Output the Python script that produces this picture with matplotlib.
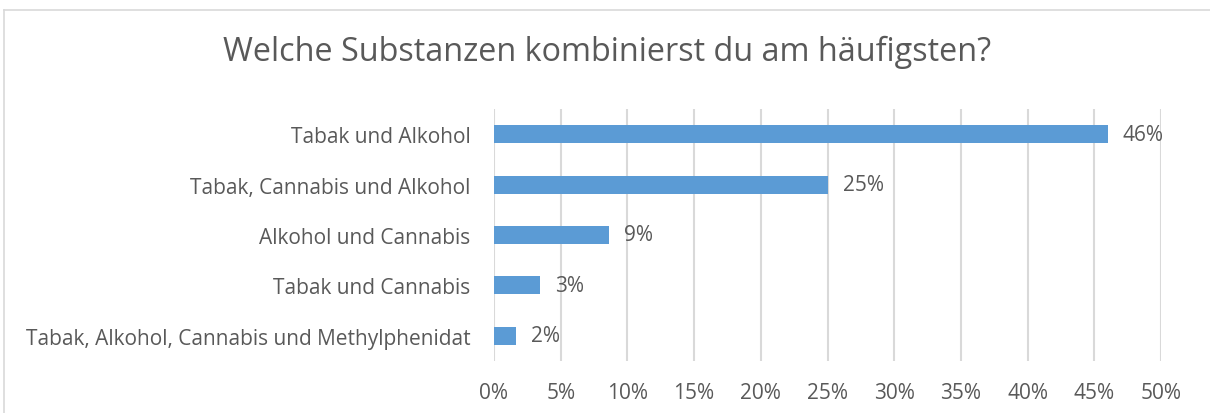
import matplotlib.pyplot as plt
from matplotlib.lines import Line2D

categories = [
    "Tabak und Alkohol",
    "Tabak, Cannabis und Alkohol",
    "Alkohol und Cannabis",
    "Tabak und Cannabis",
    "Tabak, Alkohol, Cannabis und Methylphenidat",
]
shares = [0.46, 0.25, 0.086, 0.0345, 0.0165]
xticks = [0, 0.05, 0.10, 0.15, 0.20, 0.25, 0.30, 0.35, 0.40, 0.45, 0.50]

TEXT = "#595959"
GRID = "#D9D9D9"
BAR = "#5B9BD5"

plt.rcParams['font.family'] = ['Open Sans', 'DejaVu Sans']

fig = plt.figure(figsize=(12.1, 4.14), dpi=100)
ax = fig.add_axes([494 / 1210, 1 - 362 / 414, 667 / 1210, 252 / 414])

ypos = list(range(len(categories)))
ax.barh(ypos, shares, height=0.36, color=BAR, zorder=3)
ax.set_ylim(len(categories) - 0.5, -0.5)
ax.set_xlim(0, 0.5)
ax.set_yticks(ypos)
ax.set_yticklabels(categories, fontsize=15, color=TEXT)
ax.set_xticks(xticks)
ax.set_xticklabels(["%d%%" % round(t * 100) for t in xticks], fontsize=15, color=TEXT)
ax.tick_params(axis='both', length=0)
ax.tick_params(axis='y', pad=17)
ax.tick_params(axis='x', pad=15)
ax.grid(axis='x', color=GRID, linewidth=1.5, zorder=0)
for s in ax.spines.values():
    s.set_visible(False)

for y, v in zip(ypos, shares):
    ax.annotate("%d%%" % round(v * 100), (v, y), xytext=(11, 0), textcoords='offset points',
                va='center', ha='left', fontsize=15, color=TEXT)

fig.text(607 / 1210, 1 - 52 / 414, "Welche Substanzen kombinierst du am häufigsten?",
         ha='center', va='center', fontsize=23.3, color=TEXT)

# chart frame (left and top edges visible)
fig.add_artist(Line2D([4 / 1210, 4 / 1210], [0, 1 - 11 / 414], transform=fig.transFigure, color=GRID, lw=1.2))
fig.add_artist(Line2D([4 / 1210, 1], [1 - 11 / 414, 1 - 11 / 414], transform=fig.transFigure, color=GRID, lw=1.2))

fig.savefig("out.png", dpi=100)
